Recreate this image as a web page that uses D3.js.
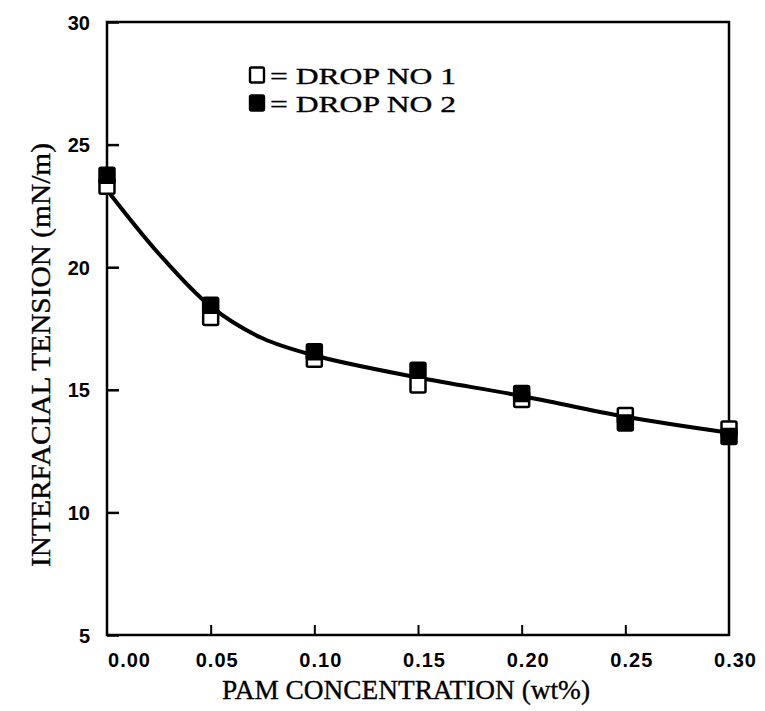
<!DOCTYPE html>
<html>
<head>
<meta charset="utf-8">
<script src="https://cdn.jsdelivr.net/npm/d3@7"></script>
<style>
  html, body { margin: 0; padding: 0; background: #fff; }
  svg { display: block; }
</style>
</head>
<body>
<svg id="chart" width="765" height="711"></svg>
<script>
// ---- data ----
const concentration = [0.00, 0.05, 0.10, 0.15, 0.20, 0.25, 0.30];
const drop1 = [23.3, 17.95, 16.25, 15.2, 14.6, 13.95, 13.4];
const drop2 = [23.75, 18.45, 16.55, 15.8, 14.85, 13.65, 13.1];
const fitX = [0.00, 0.025, 0.05, 0.075, 0.10, 0.15, 0.20, 0.25, 0.30];
const fitY = [23.15, 20.55, 18.4, 17.1, 16.4, 15.5, 14.75, 13.9, 13.25];
const xTicks = [0.00, 0.05, 0.10, 0.15, 0.20, 0.25, 0.30];
const yTicks = [5, 10, 15, 20, 25, 30];
const legendLabels = ["= DROP NO 1", "= DROP NO 2"];
const xTitle = "PAM CONCENTRATION (wt%)";
const yTitle = "INTERFACIAL TENSION (mN/m)";

const svg = d3.select("#chart");
const L = 107, R = 729, T = 22, B = 635;
const x = d3.scaleLinear().domain([0, 0.30]).range([L, R]);
const y = d3.scaleLinear().domain([5, 30]).range([B, T]);

// frame
svg.append("rect").attr("x", L).attr("y", T).attr("width", R - L).attr("height", B - T)
  .attr("fill", "none").attr("stroke", "#000").attr("stroke-width", 2.5);

// y axis (inward ticks)
const yAxis = svg.append("g").attr("transform", `translate(${L},0)`)
  .call(d3.axisRight(y).tickValues(yTicks).tickSize(12).tickFormat(d3.format("d")));
yAxis.select(".domain").remove();
yAxis.selectAll(".tick line").attr("stroke", "#000").attr("stroke-width", 2.5);
yAxis.selectAll(".tick text")
  .attr("x", -17).attr("text-anchor", "end").attr("dy", "0.35em")
  .attr("font-family", "'Liberation Sans', Arial, sans-serif").attr("font-weight", "bold")
  .attr("font-size", 20).attr("fill", "#000");

// x axis (inward ticks)
const xAxis = svg.append("g").attr("transform", `translate(0,${B})`)
  .call(d3.axisTop(x).tickValues(xTicks).tickSize(10).tickFormat(d3.format(".2f")));
xAxis.select(".domain").remove();
xAxis.selectAll(".tick line").attr("stroke", "#000").attr("stroke-width", 2);
xAxis.selectAll(".tick text")
  .attr("y", 32).attr("dy", 0)
  .attr("dx", (d, i) => i === 0 ? 22 : 6)
  .attr("text-anchor", "middle")
  .attr("font-family", "'Liberation Sans', Arial, sans-serif").attr("font-weight", "bold")
  .attr("font-size", 20).attr("letter-spacing", 1).attr("fill", "#000");
xAxis.selectAll(".tick").filter(d => d === 0 || d === 0.30).select("line").remove();

// fitted curve
const line = d3.line().x(d => x(d[0])).y(d => y(d[1])).curve(d3.curveCatmullRom.alpha(0.5));
svg.append("path").datum(fitX.map((v, i) => [v, fitY[i]]))
  .attr("d", line).attr("fill", "none").attr("stroke", "#000").attr("stroke-width", 4);

// markers
const S = 15;
svg.append("g").selectAll("rect").data(concentration.map((v, i) => [v, drop1[i]])).join("rect")
  .attr("x", d => x(d[0]) - S / 2).attr("y", d => y(d[1]) - S / 2)
  .attr("width", S).attr("height", S).attr("rx", 1.5)
  .attr("fill", "#fff").attr("stroke", "#000").attr("stroke-width", 2.5);
svg.append("g").selectAll("rect").data(concentration.map((v, i) => [v, drop2[i]])).join("rect")
  .attr("x", d => x(d[0]) - S / 2).attr("y", d => y(d[1]) - S / 2)
  .attr("width", S).attr("height", S).attr("rx", 1.5)
  .attr("fill", "#000").attr("stroke", "#000").attr("stroke-width", 2.5);

const serif = "'Liberation Serif', 'DejaVu Serif', serif";

// legend
const lg = svg.append("g");
[0, 1].forEach(i => {
  const cy = 75 + i * 28;
  lg.append("rect").attr("x", 250).attr("y", cy - 7.5).attr("width", 14).attr("height", 15).attr("rx", 1.5)
    .attr("fill", i === 0 ? "#fff" : "#000").attr("stroke", "#000").attr("stroke-width", 2.4);
  lg.append("text").attr("x", 270).attr("y", cy + 8.5)
    .attr("font-family", serif).attr("font-size", 24)
    .attr("stroke", "#000").attr("stroke-width", 0.35)
    .attr("textLength", 186).attr("lengthAdjust", "spacingAndGlyphs")
    .attr("fill", "#000").text(legendLabels[i]);
});

// axis titles
svg.append("text").attr("x", 406).attr("y", 699).attr("text-anchor", "middle")
  .attr("font-family", serif).attr("font-size", 28)
  .attr("stroke", "#000").attr("stroke-width", 0.35)
  .attr("textLength", 368).attr("lengthAdjust", "spacingAndGlyphs")
  .attr("fill", "#000").text(xTitle);
svg.append("text").attr("transform", "translate(50,355) rotate(-90)").attr("text-anchor", "middle")
  .attr("font-family", serif).attr("font-size", 28)
  .attr("stroke", "#000").attr("stroke-width", 0.35)
  .attr("textLength", 424).attr("lengthAdjust", "spacingAndGlyphs")
  .attr("fill", "#000").text(yTitle);
</script>
</body>
</html>
